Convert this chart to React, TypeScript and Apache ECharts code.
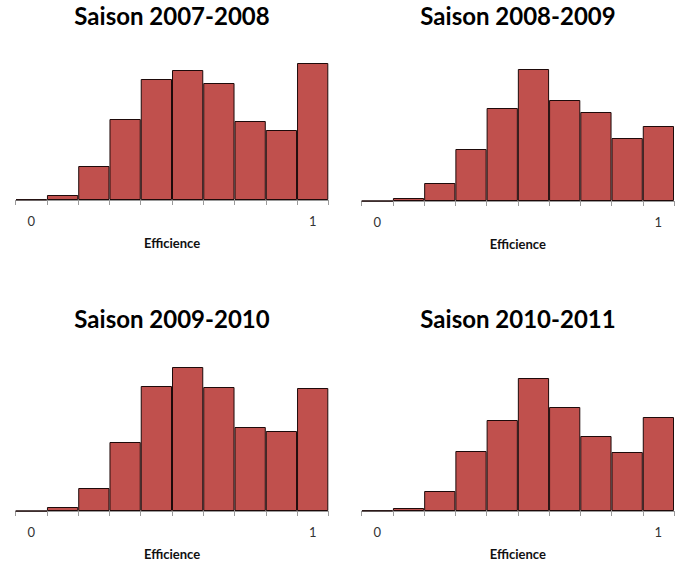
import React, { useEffect, useRef } from "react";
import * as echarts from "echarts";

const bins = ["0-0.1", "0.1-0.2", "0.2-0.3", "0.3-0.4", "0.4-0.5", "0.5-0.6", "0.6-0.7", "0.7-0.8", "0.8-0.9", "0.9-1"];
const tickLabels = ["0", "", "", "", "", "", "", "", "", "1"];
const seasons = ["Saison 2007-2008", "Saison 2008-2009", "Saison 2009-2010", "Saison 2010-2011"];
const season0708 = [0.6, 5, 34, 81, 121, 130, 117, 79, 70, 137];
const season0809 = [0, 3, 18, 52, 93, 132, 101, 89, 63, 75];
const season0910 = [0, 4, 23, 69, 125, 144, 124, 84, 80, 123];
const season1011 = [0.5, 3, 20, 60, 91, 133, 104, 75, 59, 94];
const seriesData = [season0708, season0809, season0910, season1011];
const axisName = "Efficience";

const FONT = "Lato, 'Open Sans', sans-serif";

export default function App() {
  const ref = useRef<HTMLDivElement>(null);
  useEffect(() => {
    if (!ref.current) return;
    const chart = echarts.init(ref.current, null, { renderer: "svg" });
    const layouts = [
      { left: 15.7, top: 50, width: 312.6, height: 150, cx: 172, ty: 15 },
      { left: 361.7, top: 51, width: 312.3, height: 150, cx: 518, ty: 15 },
      { left: 15.7, top: 361, width: 312.6, height: 150, cx: 172, ty: 318 },
      { left: 361.7, top: 361, width: 312.3, height: 150, cx: 518, ty: 318 },
    ];
    const option: any = {
      animation: false,
      backgroundColor: "#ffffff",
      grid: layouts.map((l) => ({ left: l.left, top: l.top, width: l.width, height: l.height, containLabel: false })),
      xAxis: layouts.map((l, i) => ({
        type: "category",
        gridIndex: i,
        data: bins,
        boundaryGap: true,
        name: axisName,
        nameLocation: "middle",
        nameGap: 43,
        nameTextStyle: { fontFamily: FONT, fontWeight: "bold", fontSize: 13, color: "#111", verticalAlign: "middle" },
        axisLine: { show: true, lineStyle: { color: "#9a9a9a", width: 1 } },
        axisTick: { show: true, alignWithLabel: false, interval: 0, length: 5, lineStyle: { color: "#9a9a9a" } },
        axisLabel: {
          show: true,
          interval: 0,
          margin: 21,
          verticalAlign: "middle",
          fontFamily: FONT,
          fontSize: 13,
          color: "#333",
          formatter: (_v: string, idx: number) => tickLabels[idx],
        },
      })),
      yAxis: layouts.map((l, i) => ({
        type: "value",
        gridIndex: i,
        min: 0,
        max: 150,
        show: false,
        splitLine: { show: false },
      })),
      series: seriesData.map((d, i) => ({
        type: "bar",
        xAxisIndex: i,
        yAxisIndex: i,
        data: d,
        barCategoryGap: "0%",
        itemStyle: { color: "#C0504D", borderColor: "#1e0a0a", borderWidth: 1 },
      })),
      graphic: layouts.map((l, i) => ({
        type: "text",
        x: l.cx,
        y: l.ty,
        style: {
          text: seasons[i],
          fontFamily: FONT,
          fontWeight: "bold",
          fontSize: 24,
          fill: "#000",
          textAlign: "center",
          textVerticalAlign: "middle",
        },
      })),
    };
    chart.setOption(option);
    return () => chart.dispose();
  }, []);
  return <div ref={ref} style={{ position: "fixed", left: 0, top: 0, width: 678, height: 565, background: "#fff" }} />;
}
